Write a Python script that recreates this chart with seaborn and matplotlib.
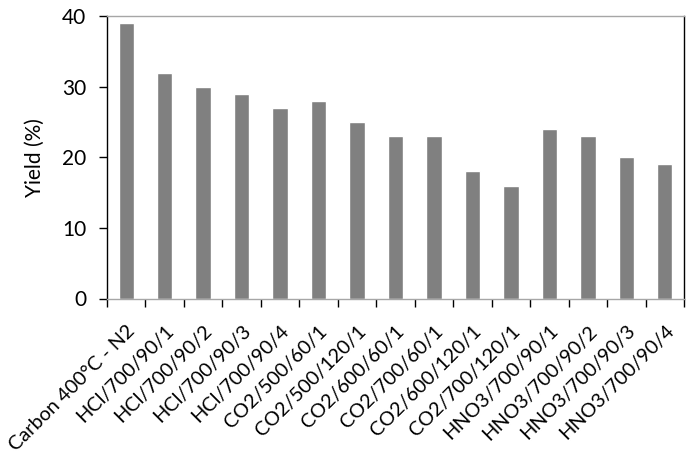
import matplotlib
matplotlib.use("Agg")
import matplotlib.pyplot as plt
import matplotlib.transforms as mtransforms
import seaborn as sns
import pandas as pd
import numpy as np

categories = ["Carbon 400°C - N2", "HCl/700/90/1", "HCl/700/90/2", "HCl/700/90/3",
              "HCl/700/90/4", "CO2/500/60/1", "CO2/500/120/1", "CO2/600/60/1",
              "CO2/700/60/1", "CO2/600/120/1", "CO2/700/120/1", "HNO3/700/90/1",
              "HNO3/700/90/2", "HNO3/700/90/3", "HNO3/700/90/4"]
yields = [39, 32, 30, 29, 27, 28, 25, 23, 23, 18, 16, 24, 23, 20, 19]
yticks = [0, 10, 20, 30, 40]

sns.set_theme(style="white")
plt.rcParams['font.family'] = ['Lato', 'DejaVu Sans']
plt.rcParams['text.color'] = 'black'
plt.rcParams['xtick.color'] = 'black'
plt.rcParams['ytick.color'] = 'black'
plt.rcParams['axes.labelcolor'] = 'black'

FS = 15
FSX = 14.3

df = pd.DataFrame({"cat": categories, "y": yields})
fig = plt.figure(figsize=(6.93, 4.68), dpi=100)
ax = fig.add_axes([107/693, 1-298.5/468, (684-107)/693, (298.5-16)/468])
sns.barplot(data=df, x="cat", y="y", color="#808080", saturation=1, width=0.4, ax=ax)
ax.set_ylim(0, 40)
ax.set_xlim(-0.5, len(categories)-0.5)
ax.set_yticks(yticks)
ax.set_yticklabels([str(t) for t in yticks], fontsize=FS)
ax.set_xlabel("")
ax.set_ylabel("Yield (%)", fontsize=FS, labelpad=12)

# x tick marks at category boundaries
ax.set_xticks(np.arange(len(categories)+1)-0.5, minor=False)
ax.set_xticklabels([""]*(len(categories)+1))
ax.set_xticks(np.arange(len(categories)), minor=True)
labels = ax.set_xticklabels(categories, minor=True, rotation=45, ha="right",
                            rotation_mode="anchor", fontsize=FSX)
offset = mtransforms.ScaledTranslation(9/100, 0, fig.dpi_scale_trans)
for lab in labels:
    lab.set_transform(lab.get_transform() + offset)
ax.tick_params(axis="x", which="major", direction="out", length=6, width=1, color="black", bottom=True)
ax.tick_params(axis="x", which="minor", length=0, pad=17)
ax.tick_params(axis="y", direction="out", length=6, width=1, color="black", left=True, pad=9)

for s in ["left", "right"]:
    ax.spines[s].set_color("black")
    ax.spines[s].set_linewidth(1)
for s in ["top", "bottom"]:
    ax.spines[s].set_color("#a6a6a6")
    ax.spines[s].set_linewidth(1)

fig.savefig("out.png", dpi=100)
